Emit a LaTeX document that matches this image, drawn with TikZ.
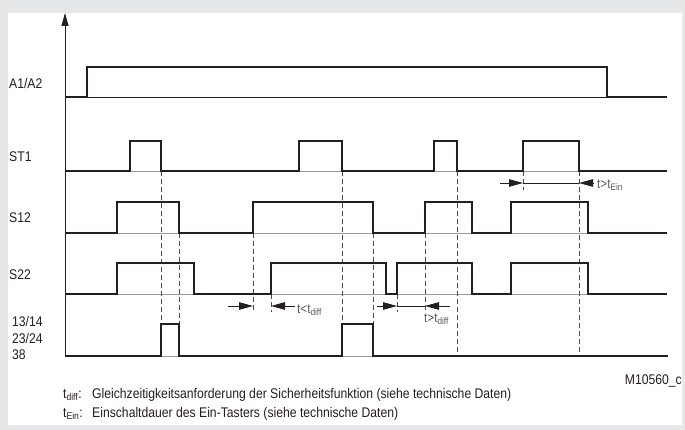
\documentclass[tikz,border=0pt]{standalone}
\usepackage{fontspec}
\setmainfont{Liberation Sans}[FakeStretch=0.87]
\usetikzlibrary{arrows.meta}

\definecolor{sigblack}{HTML}{231F20}
\definecolor{basegray}{HTML}{9A9A9A}
\definecolor{guidegray}{HTML}{4A4A4A}
\definecolor{framegray}{HTML}{E6E7E8}
\definecolor{notegray}{HTML}{5A5A5A}

\begin{document}
\begin{tikzpicture}[x=1pt, y=-1pt,
        signal/.style={line width=1.8pt, draw=sigblack, line join=miter},
        zeroline/.style={line width=0.8pt, draw=basegray},
        guide/.style={line width=0.9pt, draw=guidegray, dash pattern=on 5pt off 3pt},
        dimline/.style={line width=0.8pt, draw=sigblack},
        dimarrow/.style={dimline, -{Triangle[length=14pt, width=7.5pt]}},
        rowlabel/.style={anchor=west, inner sep=0pt, font=\fontsize{14}{16}\selectfont, text=sigblack},
        notelabel/.style={anchor=west, inner sep=0pt, font=\fontsize{13.5}{15}\selectfont, text=notegray}
    ]
        \def\xstart{65}
        \def\xend{667}

        % frame
        \fill[framegray] (0,0) rectangle (685,430);
        \fill[white] (8,13) rectangle (682,425);
        \useasboundingbox (0,0) rectangle (685,430);

        % zero lines of the rows
        \draw[zeroline, draw=sigblack] (\xstart,97) -- (\xend,97);
        \foreach \ybase in {171,233,294,356}
        {
            \draw[zeroline] (\xstart,\ybase) -- (\xend,\ybase);
        }

        % dashed guide lines
        \foreach \x/\ytop/\ybot in {161/171/324, 179/233/324, 253/233/312, 271/294/312,
                                    342/171/324, 373/233/324, 397/294/312, 425/233/312,
                                    457/171/356, 523/171/190, 579/171/356}
        {
            \draw[guide] (\x,\ytop) -- (\x,\ybot);
        }

        % time axis
        \coordinate (axisfoot) at (\xstart,357);
        \coordinate (axistip) at (\xstart,13);
        \draw[line width=1pt, draw=sigblack, -{Triangle[length=13pt, width=7pt]}] (axisfoot) -- (axistip);

        % A1/A2
        \draw[signal] (\xstart,97) -- (87,97) -- (87,67) -- (607,67) -- (607,97) -- (\xend,97);

        % ST1
        \draw[signal] (\xstart,171) -- (130,171) -- (130,141) -- (161,141) -- (161,171)
            -- (299,171) -- (299,141) -- (342,141) -- (342,171)
            -- (434,171) -- (434,141) -- (457,141) -- (457,171)
            -- (523,171) -- (523,141) -- (579,141) -- (579,171) -- (\xend,171);

        % S12
        \draw[signal] (\xstart,233) -- (117,233) -- (117,202) -- (179,202) -- (179,233)
            -- (253,233) -- (253,202) -- (373,202) -- (373,233)
            -- (425,233) -- (425,202) -- (472,202) -- (472,233)
            -- (511,233) -- (511,202) -- (588,202) -- (588,233) -- (\xend,233);

        % S22
        \draw[signal] (\xstart,294) -- (117,294) -- (117,263) -- (194,263) -- (194,294)
            -- (271,294) -- (271,263) -- (386,263) -- (386,294)
            -- (397,294) -- (397,263) -- (472,263) -- (472,294)
            -- (511,294) -- (511,263) -- (588,263) -- (588,294) -- (\xend,294);

        % 13/14 23/24 38
        \draw[signal] (\xstart,356) -- (161,356) -- (161,324) -- (179,324) -- (179,356)
            -- (342,356) -- (342,324) -- (373,324) -- (373,356) -- (668,356);

        % row labels
        \node[rowlabel] (lblA) at (9,83) {A1/A2};
        \node[rowlabel] (lblST) at (9,157) {ST1};
        \node[rowlabel] (lblSa) at (9,218) {S12};
        \node[rowlabel] (lblSb) at (9,275) {S22};
        \node[rowlabel] (lblOa) at (12,321) {13/14};
        \node[rowlabel] (lblOb) at (12,338) {23/24};
        \node[rowlabel] (lblOc) at (12,355) {38};

        % t < t_diff
        \coordinate (da1) at (228,306);
        \coordinate (da2) at (253,306);
        \coordinate (da3) at (271,306);
        \coordinate (da4) at (295,306);
        \draw[dimarrow] (da1) -- (da2);
        \draw[dimarrow] (da4) -- (da3);
        \node[notelabel] (tdiffa) at (297,310) {t<t\textsubscript{diff}};

        % t > t_diff
        \coordinate (db1) at (377,306);
        \coordinate (db2) at (397,306);
        \coordinate (db3) at (425,306);
        \coordinate (db4) at (450,306);
        \draw[dimarrow] (db1) -- (db2);
        \draw[dimline] (db2) -- (db3);
        \draw[dimarrow] (db4) -- (db3);
        \node[notelabel] (tdiffb) at (424,319) {t>t\textsubscript{diff}};

        % t > t_Ein
        \coordinate (dc1) at (500,183);
        \coordinate (dc2) at (523,183);
        \coordinate (dc3) at (579,183);
        \coordinate (dc4) at (593,183);
        \draw[dimarrow] (dc1) -- (dc2);
        \draw[dimline] (dc2) -- (dc3);
        \draw[dimarrow] (dc4) -- (dc3);
        \node[notelabel] (tein) at (597,185) {t>t\textsubscript{Ein}};

        % notes
        \node[rowlabel, anchor=east] (code) at (682,381) {M10560\_c};
        \node[rowlabel] (keydiff) at (63,395) {t\textsubscript{diff}:};
        \node[rowlabel] (txtdiff) at (92,395) {Gleichzeitigkeitsanforderung der Sicherheitsfunktion (siehe technische Daten)};
        \node[rowlabel] (keyein) at (63,414) {t\textsubscript{Ein}:};
        \node[rowlabel] (txtein) at (92,414) {Einschaltdauer des Ein-Tasters (siehe technische Daten)};
\end{tikzpicture}
\end{document}
